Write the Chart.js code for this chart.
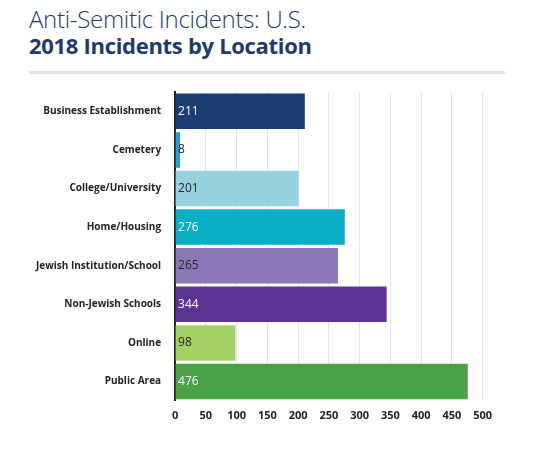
<!DOCTYPE html><html><head><script src="https://cdn.jsdelivr.net/npm/chart.js"></script>
<style>body{margin:0;background:#fff;font-family:"Open Sans",sans-serif}
#t1{position:absolute;left:29px;top:2px;font-size:24px;color:#1f3a68;font-weight:300;letter-spacing:-0.3px}
#t2{position:absolute;left:29px;top:30px;font-size:22px;color:#1f3a68;font-weight:700;letter-spacing:-0.3px}
#hr{position:absolute;left:29px;top:71px;width:476px;height:3px;background:#e3e3e3}
#c{position:absolute;left:0;top:80px;width:500px;height:350px}</style></head><body>
<div id="t1">Anti-Semitic Incidents: U.S.</div><div id="t2">2018 Incidents by Location</div><div id="hr"></div>
<div id="c"><canvas id="cv"></canvas></div>
<script>
const categories=["Business Establishment","Cemetery","College/University","Home/Housing","Jewish Institution/School","Non-Jewish Schools","Online","Public Area"];
const values=[211,8,201,276,265,344,98,476];
const colors=["#1c3d72","#1fa0d8","#97d2e0","#0aadc6","#8b79b7","#5c3494","#a4d166","#4ba146"];
const labelColors=["#fff","#222","#222","#fff","#222","#fff","#222","#fff"];
const ticks=[0,50,100,150,200,250,300,350,400,450,500];
const lbl={id:'lbl',afterDatasetsDraw(ch){const c=ch.ctx;const m=ch.getDatasetMeta(0);c.save();c.font='12px "Open Sans"';c.textBaseline='middle';
m.data.forEach((b,i)=>{c.fillStyle=labelColors[i];c.fillText(values[i],ch.scales.x.getPixelForValue(0)+3,b.y)});c.restore();}};
new Chart(document.getElementById('cv'),{type:'bar',data:{labels:categories,datasets:[{data:values,backgroundColor:colors,barPercentage:0.92,categoryPercentage:1}]},
options:{indexAxis:'y',responsive:true,maintainAspectRatio:false,animation:false,layout:{padding:{left:30,top:8}},
plugins:{legend:{display:false},tooltip:{enabled:false}},
scales:{x:{min:0,max:500,afterBuildTicks(a){a.ticks=ticks.map(v=>({value:v}))},grid:{color:'#e6e6e6',drawTicks:false},border:{display:false},ticks:{color:'#222',font:{family:'Open Sans',size:11,weight:'bold'},padding:8}},
y:{grid:{display:false},border:{color:'#222',width:2},ticks:{color:'#222',font:{family:'Open Sans',size:10,weight:'bold'},padding:6}}}},plugins:[lbl]});
</script></body></html>
